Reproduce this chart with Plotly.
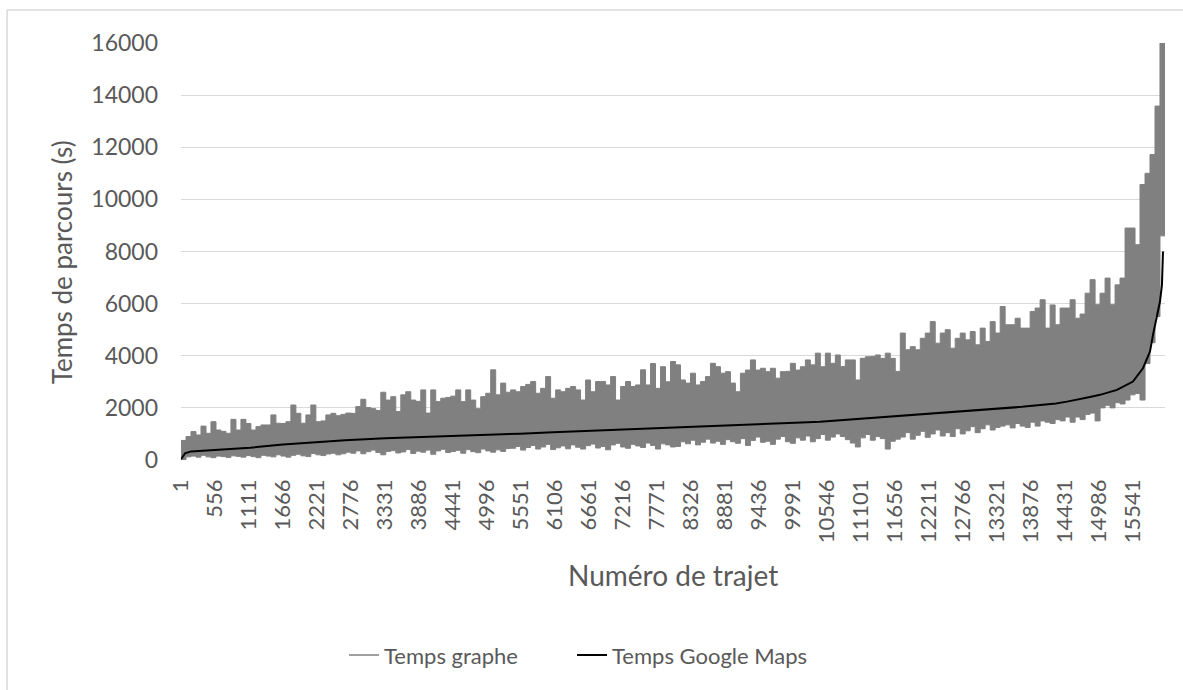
import plotly.graph_objects as go

# ---------------- data ----------------
N_TRAJETS = 16060

x_tick_labels = [1, 556, 1111, 1666, 2221, 2776, 3331, 3886, 4441, 4996, 5551,
                 6106, 6661, 7216, 7771, 8326, 8881, 9436, 9991, 10546, 11101,
                 11656, 12211, 12766, 13321, 13876, 14431, 14986, 15541]
y_tick_values = [0, 2000, 4000, 6000, 8000, 10000, 12000, 14000, 16000]

# "Temps graphe": upper and lower envelope of the noisy series, read column by column
graphe_haut = [
    750, 900, 1090, 960, 1300, 1025, 1470, 1150, 1100, 1025, 1560, 1150, 1560, 1400, 1150, 1280, 1345,
    1345, 1730, 1410, 1400, 1470, 2110, 1790, 1410, 1730, 2110, 1470, 1500, 1730, 1790, 1700, 1750,
    1800, 1790, 2050, 2330, 2010, 1970, 1900, 2600, 2300, 2430, 1860, 2500, 2620, 2300, 2250, 2690,
    1800, 2690, 2240, 2370, 2400, 2450, 2690, 2240, 2690, 2300, 1970, 2430, 2560, 3460, 2500, 2950, 2600,
    2690, 2620, 2820, 2900, 3010, 2560, 2750, 3200, 2370, 2690, 2620, 2750, 2820, 2690, 2300, 3070,
    2620, 3010, 3010, 2880, 3200, 2300, 2820, 3010, 2820, 2880, 3460, 2880, 3700, 2750, 3580, 3000, 3780,
    3650, 3070, 2950, 3330, 2880, 3010, 3200, 3710, 3580, 3330, 3390, 2950, 2620, 3330, 3450, 3840,
    3450, 3520, 3390, 3520, 3140, 3390, 3400, 3710, 3450, 3580, 3840, 3650, 4100, 3580, 4100, 3710, 4030,
    3590, 3840, 3840, 3070, 3900, 3960, 3970, 4030, 3900, 4100, 3900, 3400, 4870, 4230, 4350, 4230,
    4670, 4870, 5310, 4480, 4870, 5000, 4290, 4670, 4870, 4610, 4930, 4420, 5060, 4550, 5310, 4870, 5890,
    5190, 5190, 5440, 5060, 5060, 5700, 5830, 6150, 5060, 5950, 5190, 5830, 5830, 6150, 5440, 5600,
    6400, 6920, 5960, 6400, 6980, 5960, 6720, 6980, 8900, 8900, 8260, 10570, 11000, 11720, 13580, 16000, 16000,
]
graphe_bas = [
    20, 120, 150, 110, 180, 120, 90, 150, 130, 100, 160, 140, 110, 170, 130, 90, 180,
    150, 120, 200, 150, 110, 180, 220, 160, 130, 250, 200, 170, 230, 260, 200, 240,
    300, 260, 350, 240, 320, 380, 290, 200, 330, 360, 270, 310, 400, 250, 340, 300,
    380, 220, 350, 410, 290, 330, 370, 260, 400, 320, 280, 420, 350, 300, 390, 330, 440,
    450, 520, 380, 480, 560, 420, 500, 600, 400, 470, 540, 430, 580, 490, 420, 550,
    610, 460, 520, 390, 580, 640, 500, 450, 600, 540, 480, 650, 560, 420, 620, 580, 500,
    520, 700, 620, 760, 580, 680, 800, 650, 720, 600, 780, 700, 640, 820, 560, 750,
    880, 680, 720, 600, 800, 900, 700, 640, 850, 760, 920, 700, 820, 980, 760, 880, 1000,
    900, 780, 650, 500, 850, 980, 760, 900, 820, 420, 720, 800, 880, 1050, 800, 950,
    1100, 870, 1000, 1150, 920, 1050, 900, 1200, 1000, 1120, 1280, 1050, 1200, 1350, 1150, 1250, 1300,
    1350, 1230, 1400, 1300, 1250, 1450, 1300, 1500, 1450, 1400, 1550, 1500, 1650, 1450, 1650, 1550,
    1750, 1800, 1500, 2000, 2100, 2000, 2200, 2150, 2300, 2500, 2550, 2300, 3700, 4500, 5500, 8600, 12400,
]

# "Temps Google Maps": sorted, monotonically increasing series
google_trajet = [1, 34, 66, 164, 605, 1127, 1666, 2221, 2678, 3331, 3902, 4424, 4979, 5534,
                 6072, 6611, 7166, 7704, 8259, 8814, 9369, 9924, 10430, 10935, 11523, 12061,
                 12633, 13171, 13726, 14281, 14460, 14836, 14999, 15276, 15537, 15700, 15815,
                 15864, 15929, 15978, 16010, 16027]
google_temps = [30, 150, 256, 330, 400, 470, 590, 690, 760, 830, 870, 920, 960, 1010,
                1060, 1110, 1160, 1200, 1260, 1290, 1350, 1420, 1470, 1560, 1650, 1750,
                1840, 1950, 2040, 2170, 2240, 2420, 2500, 2690, 3010, 3520, 4160,
                4800, 5570, 6080, 6720, 8000]

# sample positions of the envelope columns (evenly spread over the trajets)
M = len(graphe_haut)
graphe_trajet = [round(1 + k * (N_TRAJETS - 1) / (M - 1)) for k in range(M)]

GRAY = "#808080"
TXT = "#595959"
FONT = "Lato"

fig = go.Figure()
fig.add_trace(go.Scatter(x=graphe_trajet, y=graphe_bas, mode="lines",
                         line=dict(color=GRAY, width=1, shape="hv"),
                         showlegend=False, hoverinfo="skip"))
fig.add_trace(go.Scatter(x=graphe_trajet, y=graphe_haut, mode="lines",
                         line=dict(color=GRAY, width=1, shape="hv"),
                         fill="tonexty", fillcolor=GRAY,
                         showlegend=False, name="Temps graphe"))
# legend entry (line symbol, as in the reference)
fig.add_trace(go.Scatter(x=[None], y=[None], mode="lines", legend="legend",
                         line=dict(color=GRAY, width=1.5), name="Temps graphe"))
fig.add_trace(go.Scatter(x=google_trajet, y=google_temps, mode="lines", legend="legend2",
                         line=dict(color="black", width=2), name="Temps Google Maps"))

legend_common = dict(orientation="h", xanchor="left", y=-0.468, yanchor="middle",
                     font=dict(size=22, color=TXT, family=FONT), bgcolor="rgba(0,0,0,0)")

fig.update_layout(
    width=1183, height=690,
    margin=dict(l=181, r=18, t=43, b=230),
    paper_bgcolor="white", plot_bgcolor="white",
    font=dict(family=FONT, color=TXT, size=22),
    showlegend=True,
    legend=dict(x=0.1657, **legend_common),
    legend2=dict(x=0.3974, **legend_common),
    xaxis=dict(range=[1, N_TRAJETS], tickmode="array", tickvals=x_tick_labels,
               ticktext=[str(v) for v in x_tick_labels], tickangle=-90,
               showgrid=False, zeroline=False, showline=False, ticks="",
               ticklabelstandoff=14, tickfont=dict(size=22, color=TXT, family=FONT)),
    yaxis=dict(range=[0, 16000], tickmode="array", tickvals=y_tick_values,
               ticktext=[str(v) for v in y_tick_values],
               showgrid=True, gridcolor="#d9d9d9", gridwidth=1.3, zeroline=False,
               showline=False, ticks="", ticklabelstandoff=22,
               tickfont=dict(size=23, color=TXT, family=FONT)),
    annotations=[
        dict(text="Temps de parcours (s)", xref="paper", yref="paper",
             x=-0.121, y=0.474, textangle=-90, showarrow=False,
             font=dict(size=26, color=TXT, family=FONT), xanchor="center", yanchor="middle"),
        dict(text="Numéro de trajet", xref="paper", yref="paper",
             x=0.5, y=-0.276, showarrow=False,
             font=dict(size=28, color=TXT, family=FONT), xanchor="center", yanchor="middle"),
    ],
    shapes=[
        dict(type="line", xref="paper", yref="paper", x0=-0.1768, x1=1.02, y0=1.0791, y1=1.0791,
             line=dict(color="#d9d9d9", width=1.5)),
        dict(type="line", xref="paper", yref="paper", x0=-0.1768, x1=-0.1768, y0=1.0791, y1=-0.56,
             line=dict(color="#d9d9d9", width=1.5)),
    ],
)

fig.write_html("out.html", config={"displayModeBar": False},
               post_script="document.body.style.margin='0';document.body.style.overflow='hidden';")
